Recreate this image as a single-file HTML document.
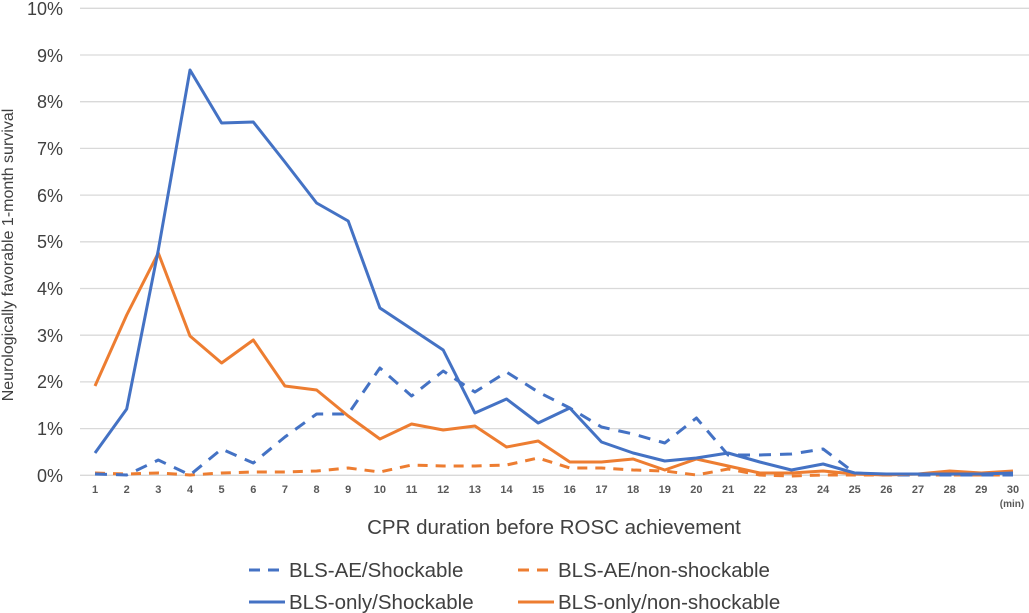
<!DOCTYPE html>
<html><head><meta charset="utf-8"><style>body{margin:0;background:#fff}svg{display:block}</style></head><body>
<svg width="1029" height="613" xmlns="http://www.w3.org/2000/svg" font-family="Liberation Sans, Arial, sans-serif">
<g stroke="#d9d9d9" stroke-width="1.3">
<line x1="80" x2="1029" y1="8.3" y2="8.3"/><line x1="80" x2="1029" y1="55" y2="55"/><line x1="80" x2="1029" y1="101.7" y2="101.7"/><line x1="80" x2="1029" y1="148.4" y2="148.4"/><line x1="80" x2="1029" y1="195.1" y2="195.1"/><line x1="80" x2="1029" y1="241.8" y2="241.8"/><line x1="80" x2="1029" y1="288.5" y2="288.5"/><line x1="80" x2="1029" y1="335.2" y2="335.2"/><line x1="80" x2="1029" y1="381.9" y2="381.9"/><line x1="80" x2="1029" y1="428.6" y2="428.6"/><line x1="80" x2="1029" y1="475.3" y2="475.3"/>
</g>
<g font-size="18" fill="#404040" text-anchor="end">
<text x="63" y="15">10%</text><text x="63" y="62">9%</text><text x="63" y="108">8%</text><text x="63" y="155">7%</text><text x="63" y="202">6%</text><text x="63" y="248">5%</text><text x="63" y="295">4%</text><text x="63" y="342">3%</text><text x="63" y="388">2%</text><text x="63" y="435">1%</text><text x="63" y="482">0%</text>
</g>
<text transform="translate(13,255) rotate(-90)" font-size="16" fill="#404040" text-anchor="middle">Neurologically favorable 1-month survival</text>
<g font-size="11" font-weight="bold" fill="#595959" text-anchor="middle">
<text x="95" y="493">1</text><text x="126.7" y="493">2</text><text x="158.3" y="493">3</text><text x="190" y="493">4</text><text x="221.6" y="493">5</text><text x="253.3" y="493">6</text><text x="284.9" y="493">7</text><text x="316.6" y="493">8</text><text x="348.2" y="493">9</text><text x="379.9" y="493">10</text><text x="411.6" y="493">11</text><text x="443.2" y="493">12</text><text x="474.9" y="493">13</text><text x="506.5" y="493">14</text><text x="538.2" y="493">15</text><text x="569.8" y="493">16</text><text x="601.5" y="493">17</text><text x="633.1" y="493">18</text><text x="664.8" y="493">19</text><text x="696.4" y="493">20</text><text x="728.1" y="493">21</text><text x="759.8" y="493">22</text><text x="791.4" y="493">23</text><text x="823.1" y="493">24</text><text x="854.7" y="493">25</text><text x="886.4" y="493">26</text><text x="918" y="493">27</text><text x="949.7" y="493">28</text><text x="981.3" y="493">29</text><text x="1013" y="493">30</text>
<text x="1012" y="507" font-size="10">(min)</text>
</g>
<text x="554" y="534" font-size="20.5" fill="#404040" text-anchor="middle">CPR duration before ROSC achievement</text>
<g fill="none" stroke-width="3" stroke-linejoin="round">
<polyline stroke="#ed7d31" stroke-dasharray="10,8" points="95,473 126.7,474 158.3,473 190,475 221.6,473 253.3,472 284.9,472 316.6,471 348.2,468 379.9,472 411.6,465 443.2,466 474.9,466 506.5,465 538.2,458 569.8,468 601.5,468 633.1,470 664.8,471 696.4,475 728.1,469 759.8,475 791.4,476 823.1,475 854.7,475 886.4,475 918,475 949.7,475 981.3,475 1013,475"/>
<polyline stroke="#4472c4" stroke-dasharray="12,9" points="95,474 126.7,475 158.3,460 190,475 221.6,449 253.3,463 284.9,437 316.6,414 348.2,414 379.9,368 411.6,396 443.2,371 474.9,392 506.5,372 538.2,392 569.8,408 601.5,427 633.1,434 664.8,443 696.4,418 728.1,455 759.8,455 791.4,454 823.1,449 854.7,473 886.4,475 918,475 949.7,475 981.3,475 1013,475"/>
<polyline stroke="#ed7d31" points="95,386 126.7,315 158.3,253 190,336 221.6,363 253.3,340 284.9,386 316.6,390 348.2,416 379.9,439 411.6,424 443.2,430 474.9,426 506.5,447 538.2,441 569.8,462 601.5,462 633.1,459 664.8,470 696.4,459 728.1,466 759.8,473 791.4,473 823.1,471 854.7,474 886.4,475 918,474 949.7,471 981.3,473 1013,471"/>
<polyline stroke="#4472c4" points="95,453 126.7,409 158.3,250 190,70 221.6,123 253.3,122 284.9,162 316.6,203 348.2,221 379.9,308 411.6,329 443.2,350 474.9,413 506.5,399 538.2,423 569.8,408 601.5,442 633.1,453 664.8,461 696.4,458 728.1,453 759.8,462 791.4,470 823.1,464 854.7,473 886.4,474 918,474 949.7,474 981.3,474 1013,473"/>
</g>
<g font-size="20.5" fill="#404040">
<line x1="249" x2="285" y1="570" y2="570" stroke="#4472c4" stroke-width="3" stroke-dasharray="11,8"/>
<text x="289" y="577">BLS-AE/Shockable</text>
<line x1="518" x2="554" y1="570" y2="570" stroke="#ed7d31" stroke-width="3" stroke-dasharray="11,8"/>
<text x="558" y="577">BLS-AE/non-shockable</text>
<line x1="249" x2="285" y1="602" y2="602" stroke="#4472c4" stroke-width="3"/>
<text x="289" y="609">BLS-only/Shockable</text>
<line x1="518" x2="554" y1="602" y2="602" stroke="#ed7d31" stroke-width="3"/>
<text x="558" y="609">BLS-only/non-shockable</text>
</g>
</svg>
</body></html>
